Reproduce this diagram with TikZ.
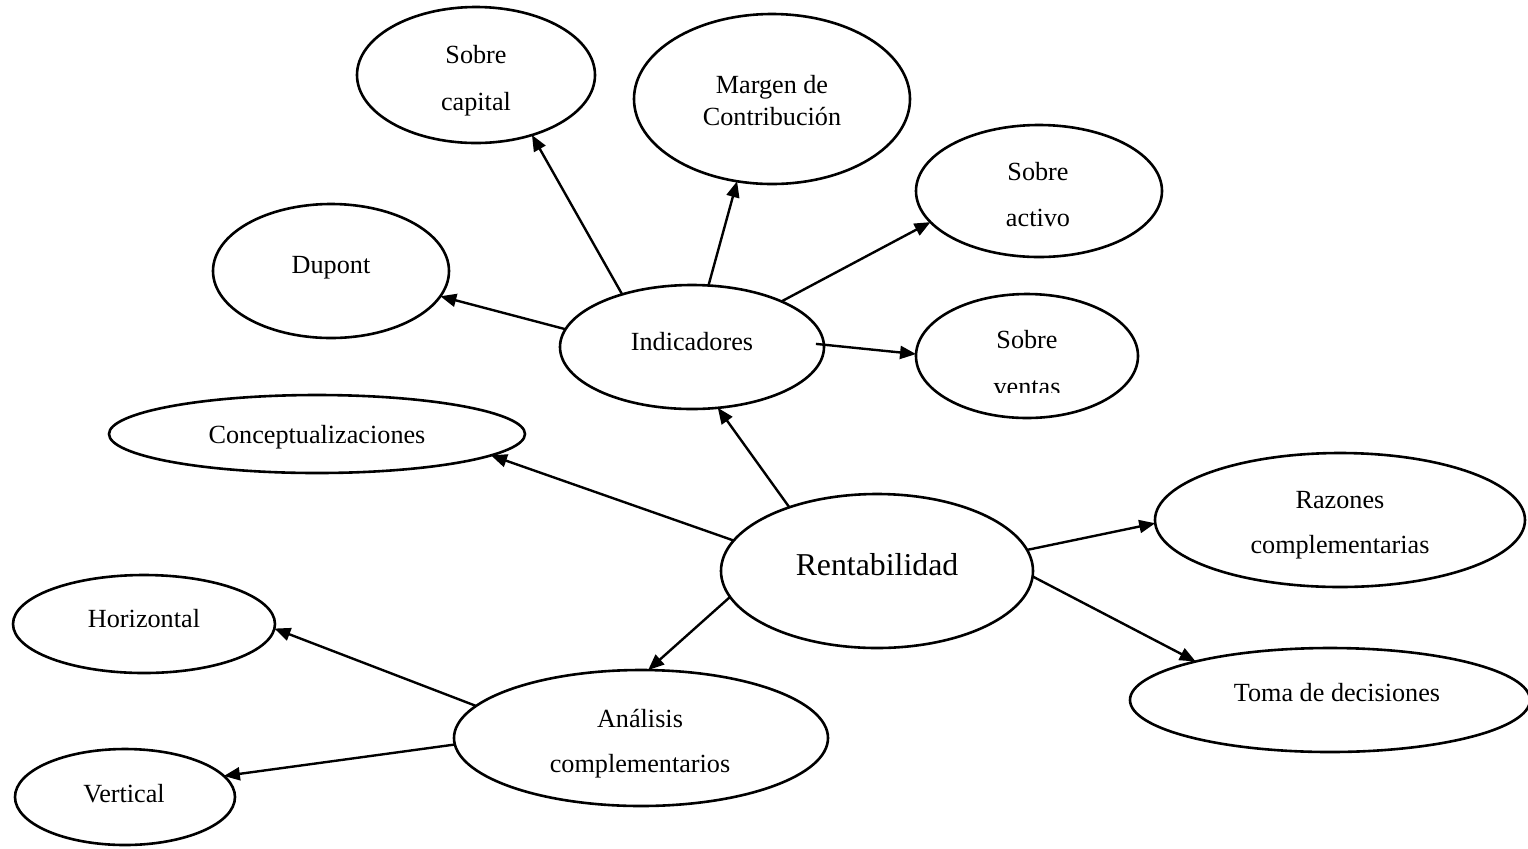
\documentclass[tikz,border=0pt]{standalone}
\usepackage{fontspec}
\setmainfont{Liberation Serif}
\usetikzlibrary{shapes.geometric,arrows.meta}
\tikzset{
  bub/.style={draw, ellipse, line width=1.3pt, inner sep=0pt, outer sep=0pt},
  lbl/.style={anchor=base, inner sep=0pt, font=\fontsize{13.1}{15}\selectfont},
  biglbl/.style={anchor=base, inner sep=0pt, font=\fontsize{15.9}{18}\selectfont},
  arr/.style={-{Triangle[length=8pt,width=6.5pt]}, line width=1.2pt}
}
\begin{document}
\begin{tikzpicture}[x=0.5pt,y=-0.5pt]
\path[use as bounding box, fill=white] (0,0) rectangle (1528,848);
% ellipses (width = rx pt, height = ry pt)
\node[bub, minimum width=119pt, minimum height=68pt] (sc) at (476,75) {};
\node[bub, minimum width=138pt, minimum height=85pt] (mc) at (772,99) {};
\node[bub, minimum width=123pt, minimum height=66pt] (sa) at (1039,191) {};
\node[bub, minimum width=118pt, minimum height=67pt] (du) at (331,271) {};
\node[bub, minimum width=132pt, minimum height=62pt] (ind) at (692,347) {};
\node[bub, minimum width=111pt, minimum height=62pt] (sv) at (1027,356) {};
\node[bub, minimum width=208pt, minimum height=39pt] (con) at (317,434) {};
\node[bub, minimum width=156pt, minimum height=77pt] (ren) at (877,571) {};
\node[bub, minimum width=185pt, minimum height=67pt] (raz) at (1340,520) {};
\node[bub, minimum width=131pt, minimum height=49pt] (hor) at (144,624) {};
\node[bub, minimum width=200pt, minimum height=52pt] (toma) at (1330,700) {};
\node[bub, minimum width=187pt, minimum height=68pt] (ana) at (641,738) {};
\node[bub, minimum width=110pt, minimum height=48pt] (ver) at (125,797) {};
% labels
\node[lbl] (tsc1) at (476,63) {Sobre};
\node[lbl] (tsc2) at (476,110) {capital};
\node[lbl] (tmc1) at (772,93) {Margen de};
\node[lbl] (tmc2) at (772,125) {Contribución};
\node[lbl] (tsa1) at (1038,180) {Sobre};
\node[lbl] (tsa2) at (1038,226) {activo};
\node[lbl] (tsv1) at (1027,348) {Sobre};
\begin{scope}
\clip (900,300) rectangle (1150,392);
\node[lbl] (tsv2) at (1027,395) {ventas};
\end{scope}
\node[lbl] (tdu) at (331,273) {Dupont};
\node[lbl] (tind) at (692,350) {Indicadores};
\node[lbl] (tcon) at (317,443) {Conceptualizaciones};
\node[biglbl] (tren) at (877,575) {Rentabilidad};
\node[lbl] (traz1) at (1340,508) {Razones};
\node[lbl] (traz2) at (1340,553) {complementarias};
\node[lbl] (ttoma) at (1337,701) {Toma de decisiones};
\node[lbl] (thor) at (144,627) {Horizontal};
\node[lbl] (tana1) at (640,727) {Análisis};
\node[lbl] (tana2) at (640,772) {complementarios};
\node[lbl] (tver) at (124,802) {Vertical};
% connectors
\draw[arr] (ind.143) -- (sc.-47.6);
\draw[arr] (ind.75.5) -- (mc.-113.4);
\draw[arr] (ind.27.3) -- (sa.-164.2);
\draw[arr] (ind.172.6) -- (du.-13);
\draw[arr, shorten <=-4pt] (ind.1) -- (sv.179.5);
\draw[arr] (ren.144.5) -- (ind.-67.4);
\draw[arr] (ren.168.7) -- (con.-7.4);
\draw[arr] (ren.8.7) -- (raz.181.5);
\draw[arr] (ren.-2.2) -- (toma.164.6);
\draw[arr] (ren.190.3) -- (ana.84.4);
\draw[arr] (ana.169.4) -- (hor.-2.7);
\draw[arr] (ana.182.7) -- (ver.12.2);
\end{tikzpicture}
\end{document}
